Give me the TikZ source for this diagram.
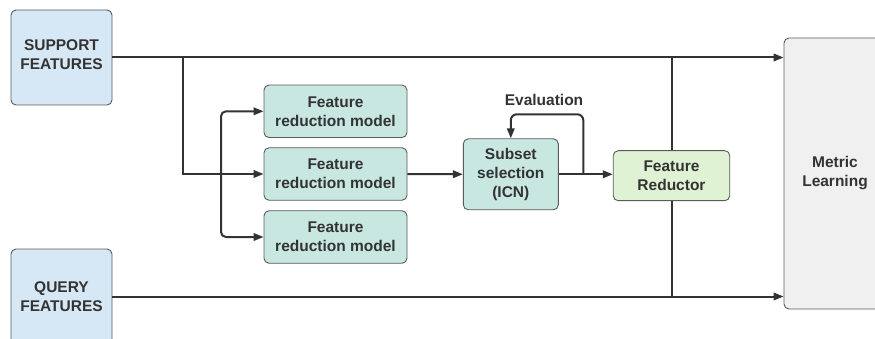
\documentclass[tikz,border=0pt]{standalone}
\usepackage{fontspec}
\setmainfont{Liberation Sans}
\usetikzlibrary{arrows.meta}
\definecolor{lineC}{HTML}{333333}
\definecolor{borderC}{HTML}{5A5A5A}
\definecolor{blueF}{HTML}{D6E8F5}
\definecolor{tealF}{HTML}{C8E7E0}
\definecolor{greenF}{HTML}{E0F2D4}
\definecolor{grayF}{HTML}{F0F0F0}
\begin{document}
\begin{tikzpicture}[x=1pt,y=-1pt,
  box/.style={draw=borderC, line width=0.9pt, rounded corners=5pt, inner sep=0pt, align=center,
    text=lineC, font=\bfseries\fontsize{15.5}{19}\selectfont},
  conn/.style={draw=lineC, line width=2pt},
  arr/.style={conn, -{Triangle[length=10pt,width=7.5pt]}},
  lbl/.style={text=lineC, font=\bfseries\fontsize{15.5}{19}\selectfont, inner sep=0pt}]
\useasboundingbox (0,0) rectangle (875,339);
\clip (0,0) rectangle (875,339);
\node[box, fill=blueF, minimum width=101pt, minimum height=95pt, text depth=5pt] (sup) at (61.5,57.5) {SUPPORT\\FEATURES};
\node[box, fill=blueF, minimum width=101pt, minimum height=95pt] (qry) at (61.5,296.5) {QUERY\\FEATURES};
\node[box, fill=grayF, minimum width=102pt, minimum height=271pt] (ml) at (835,173.5) {Metric\\Learning};
\node[box, fill=tealF, minimum width=143pt, minimum height=52.5pt] (f1) at (335.5,111.3) {Feature\\reduction model};
\node[box, fill=tealF, minimum width=143pt, minimum height=52.5pt] (f2) at (335.5,174) {Feature\\reduction model};
\node[box, fill=tealF, minimum width=143pt, minimum height=52.5pt] (f3) at (335.5,237) {Feature\\reduction model};
\node[box, fill=tealF, minimum width=95pt, minimum height=71pt] (sub) at (510.8,174.3) {Subset\\selection\\(ICN)};
\node[lbl] (ev) at (544,100) {Evaluation};
\coordinate (b1) at (183,57.5);
\coordinate (c1) at (221,174);
\coordinate (e1) at (583.3,174.3);
% vertical line through reductor (behind)
\draw[conn] (671.5,57.5) -- (671.5,296.5);
\node[box, fill=greenF, minimum width=116.5pt, minimum height=50pt] (red) at (671.5,175.7) {Feature\\Reductor};
\draw[arr] (sup.east |- b1) -- (b1 -| ml.west);
\draw[arr] (qry.east) -- (qry.east -| ml.west);
\draw[arr] (b1) |- (f2.west);
\draw[arr, rounded corners=5pt] (c1) |- (f1.west);
\draw[arr, rounded corners=5pt] (c1) |- (f3.west);
\draw[arr] (f2.east) -- (sub.west);
\draw[arr] (sub.east) -- (sub.east -| red.west);
\draw[arr, rounded corners=6pt] (e1) -- (583.3,114.3) -- (510.8,114.3) -- (sub.north);
\end{tikzpicture}
\end{document}
